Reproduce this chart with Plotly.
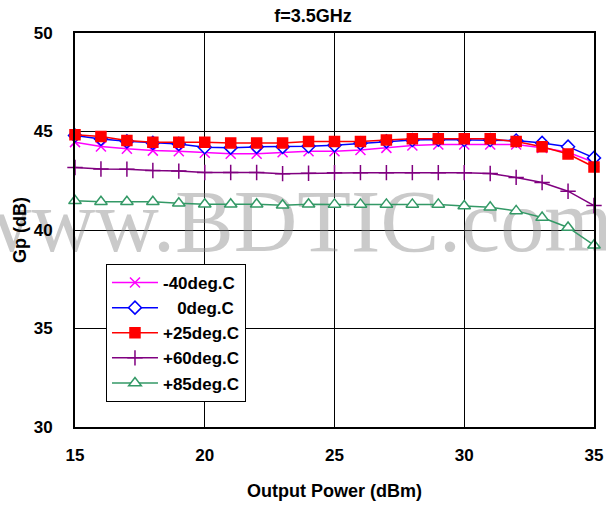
import plotly.graph_objects as go

x_power = list(range(15, 36))

gp_m40 = [44.46, 44.24, 44.12, 44.03, 44.00, 43.92, 43.87, 43.87, 43.95, 44.00, 44.00,
          44.06, 44.17, 44.29, 44.34, 44.34, 44.34, 44.34, 44.17, 43.95, 43.44]
gp_0 = [44.80, 44.62, 44.50, 44.42, 44.37, 44.20, 44.18, 44.22, 44.22, 44.25, 44.30,
        44.40, 44.50, 44.57, 44.59, 44.57, 44.57, 44.54, 44.42, 44.23, 43.66]
gp_25 = [44.83, 44.75, 44.54, 44.46, 44.46, 44.46, 44.42, 44.42, 44.42, 44.49, 44.49,
         44.49, 44.57, 44.63, 44.63, 44.63, 44.63, 44.49, 44.23, 43.86, 43.20]
gp_60 = [43.17, 43.10, 43.09, 43.02, 42.99, 42.92, 42.92, 42.92, 42.86, 42.88, 42.91,
         42.91, 42.91, 42.91, 42.91, 42.91, 42.87, 42.67, 42.41, 41.97, 41.24]
gp_85 = [41.48, 41.43, 41.43, 41.43, 41.36, 41.31, 41.31, 41.31, 41.26, 41.31, 41.30,
         41.30, 41.30, 41.30, 41.30, 41.22, 41.15, 40.97, 40.63, 40.13, 39.23]

series_names = ["-40deg.C", "\u00a0\u00a0\u00a00deg.C", "+25deg.C", "+60deg.C", "+85deg.C"]
series_values = [gp_m40, gp_0, gp_25, gp_60, gp_85]

title_text = "f=3.5GHz"
x_title = "Output Power (dBm)"
y_title = "Gp (dB)"
watermark = "www.BDTIC.com"

styles = [
    dict(color="#FF00FF", symbol="x-thin", size=10, fill="#FF00FF"),
    dict(color="#0000FF", symbol="diamond", size=10, fill="white"),
    dict(color="#FF0000", symbol="square", size=10, fill="#FF0000"),
    dict(color="#800080", symbol="cross-thin", size=11, fill="#800080"),
    dict(color="#339966", symbol="triangle-up", size=11, fill="white"),
]

FONT = "Arial, Liberation Sans, sans-serif"

fig = go.Figure()

# watermark (drawn first so data sits above it)
fig.add_trace(go.Scatter(
    x=[23.3], y=[40.05], mode="text", text=[watermark],
    textfont=dict(family="Liberation Serif, Times New Roman, serif", size=88,
                  color="rgba(128,128,128,0.42)"),
    showlegend=False, hoverinfo="skip", cliponaxis=False,
))

for name, vals, st in zip(series_names, series_values, styles):
    fig.add_trace(go.Scatter(
        x=x_power, y=vals, name=name, mode="lines+markers",
        line=dict(color=st["color"], width=1.5),
        marker=dict(symbol=st["symbol"], size=st["size"], color=st["fill"],
                    line=dict(color=st["color"], width=1.5)),
        cliponaxis=False,
    ))

axis_font = dict(family=FONT, size=17, color="black", weight="bold")
title_font = dict(family=FONT, size=18, color="black", weight="bold")

fig.update_layout(
    width=606, height=508,
    margin=dict(l=75, r=12, t=33, b=81),
    paper_bgcolor="white", plot_bgcolor="white",
    title=dict(text=title_text, x=0.5165, xanchor="center", y=0.969, yanchor="middle",
               font=dict(family=FONT, size=18, color="black", weight="bold")),
    xaxis=dict(range=[15, 35], dtick=5, tick0=15, showgrid=True, gridcolor="black",
               gridwidth=1, showline=True, mirror=True, linecolor="black", linewidth=2,
               ticks="", zeroline=False, tickfont=axis_font, ticklabelstandoff=12,
               automargin=False,
               title=dict(text=x_title, standoff=20, font=title_font)),
    yaxis=dict(range=[30, 50], dtick=5, tick0=30, showgrid=True, gridcolor="black",
               gridwidth=1, showline=True, mirror=True, linecolor="black", linewidth=2,
               ticks="", zeroline=False, tickfont=axis_font, ticklabelstandoff=17,
               automargin=False,
               title=dict(text=y_title, standoff=2, font=title_font)),
    legend=dict(x=0.0597, y=0.4137, xanchor="left", yanchor="top",
                bgcolor="white", bordercolor="black", borderwidth=1, itemwidth=46,
                font=dict(family=FONT, size=17, color="black", weight="bold")),
    showlegend=True,
)

post = (
    "document.documentElement.style.margin='0';"
    "document.body.style.margin='0';"
    "document.documentElement.style.overflow='hidden';"
    "document.body.style.overflow='hidden';"
)

fig.write_html("out.html", config={"displayModeBar": False}, post_script=post)
